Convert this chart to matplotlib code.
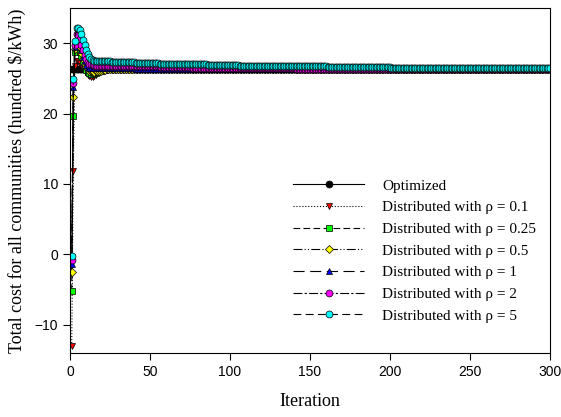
import numpy as np
import matplotlib
matplotlib.use("Agg")
import matplotlib.pyplot as plt

n_iter = 300
iterations = np.arange(1, n_iter + 1)

# first iterations read point by point, then (value, count) runs for the flat tail
optimized_val = 26.3

rho01_head = [-13.0, 11.8, 26.8, 27.4, 27.5, 27.2, 26.8, 26.4, 26.0, 25.7,
              25.5, 25.3, 25.2, 25.2, 25.3, 25.5, 25.7, 25.9, 26.0, 26.1,
              26.2, 26.2]
rho01_tail = [(26.3, 278)]

rho025_head = [-5.2, 19.7, 28.7, 29.6, 29.4, 28.8, 28.0, 27.3, 26.7, 26.2,
               25.9, 25.7, 25.6, 25.6, 25.7, 25.8, 25.9, 26.0, 26.1, 26.2,
               26.2, 26.2]
rho025_tail = [(26.3, 278)]

rho05_head = [-2.5, 22.4, 29.2, 30.3, 30.1, 29.5, 28.6, 27.8, 27.1, 26.6,
              26.3, 26.1, 26.0, 25.9, 25.9, 26.0, 26.0, 26.1, 26.1, 26.2,
              26.2, 26.2]
rho05_tail = [(26.3, 278)]

rho1_head = [-1.3, 23.8, 29.5, 30.8, 30.6, 29.9, 29.0, 28.1, 27.4, 26.9,
             26.6, 26.5, 26.4, 26.4, 26.4]
rho1_tail = [(26.4, 25), (26.3, 260)]

rho2_head = [-0.8, 24.3, 29.8, 31.3, 31.2, 30.6, 29.8, 29.0, 28.3, 27.7,
             27.3, 27.1, 27.0, 26.9, 26.9]
rho2_tail = [(26.8, 20), (26.7, 20), (26.6, 20), (26.5, 25), (26.4, 40),
             (26.3, 160)]

rho5_head = [-0.2, 24.9, 30.3, 32.1, 32.2, 31.9, 31.3, 30.5, 29.7, 29.0,
             28.4, 28.0, 27.7, 27.6, 27.5]
rho5_tail = [(27.4, 10), (27.3, 15), (27.2, 15), (27.1, 15), (27.0, 15),
             (26.9, 20), (26.8, 25), (26.7, 30), (26.6, 40), (26.5, 50),
             (26.4, 50)]


def build(head, tail):
    vals = list(head)
    for v, k in tail:
        vals += [v] * k
    return np.array(vals[:n_iter])


optimized = np.full(n_iter, optimized_val)
series = [
    ("Optimized", optimized, "-", "o", "black"),
    ("Distributed with ρ = 0.1", build(rho01_head, rho01_tail), ":", "v", "red"),
    ("Distributed with ρ = 0.25", build(rho025_head, rho025_tail), (0, (6, 3)), "s", "#00ff00"),
    ("Distributed with ρ = 0.5", build(rho05_head, rho05_tail), (0, (8, 2, 1, 2, 1, 2)), "D", "yellow"),
    ("Distributed with ρ = 1", build(rho1_head, rho1_tail), (0, (10, 5)), "^", "blue"),
    ("Distributed with ρ = 2", build(rho2_head, rho2_tail), (0, (8, 2, 2, 2)), "o", "magenta"),
    ("Distributed with ρ = 5", build(rho5_head, rho5_tail), (0, (7, 4)), "o", "cyan"),
]

fig = plt.figure(figsize=(5.61, 4.17), dpi=100)
ax = fig.add_axes([0.125, 0.1535, 0.855, 0.8275])

msizes = {"o": 5, "v": 5, "s": 4.6, "D": 4.2, "^": 5}
for label, y, ls, mk, col in series:
    ax.plot(iterations, y, linestyle=ls, color="black", linewidth=0.8,
            marker=mk, markersize=msizes[mk], markerfacecolor=col,
            markeredgecolor="black", markeredgewidth=0.5, label=label)

ax.set_xlim(0, 300)
ax.set_ylim(-14, 35)
ax.set_xticks([0, 50, 100, 150, 200, 250, 300])
ax.set_yticks([-10, 0, 10, 20, 30])
ax.tick_params(direction="out", length=5, width=0.8, labelsize=10)
for t in ax.get_xticklabels() + ax.get_yticklabels():
    t.set_family("Liberation Sans")

ax.set_xlabel("Iteration", family="Liberation Serif", fontsize=13, labelpad=10)
ax.set_ylabel("Total cost for all communities (hundred $/kWh)",
              family="Liberation Serif", fontsize=13, labelpad=6)

leg = ax.legend(loc="lower right", bbox_to_anchor=(1.0, 0.048), frameon=False,
                prop={"family": "Liberation Serif", "size": 11},
                handlelength=4.6, handletextpad=1.2, labelspacing=0.52,
                numpoints=1)

fig.savefig("out.png", dpi=100)
